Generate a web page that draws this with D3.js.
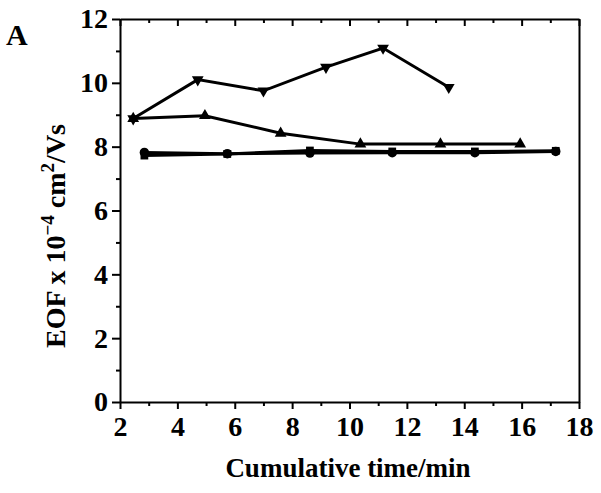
<!DOCTYPE html>
<html>
<head>
<meta charset="utf-8">
<script src="https://cdn.jsdelivr.net/npm/d3@7"></script>
<style>
  body { margin: 0; background: #fff; }
  svg text { font-family: "Liberation Serif", "Times New Roman", serif; font-weight: bold; fill: #000; }
</style>
</head>
<body>
<div id="chart"></div>
<script>
// data (cumulative time in min, EOF x 1e-4 cm2/Vs)
const downTri = [[2.46, 8.88], [4.71, 10.1], [7.0, 9.75], [9.18, 10.49], [11.17, 11.09], [13.46, 9.86]];
const upTri = [[2.46, 8.88], [4.96, 8.97], [7.6, 8.42], [10.38, 8.08], [13.17, 8.08], [15.95, 8.08]];
const circles = [[2.85, 7.82], [5.74, 7.78], [8.62, 7.8], [11.49, 7.81], [14.37, 7.81], [17.19, 7.85]];
const squares = [[2.85, 7.72], [5.74, 7.77], [8.62, 7.88], [11.49, 7.85], [14.37, 7.85], [17.19, 7.87]];
const xTicks = [2, 4, 6, 8, 10, 12, 14, 16, 18];
const yTicks = [0, 2, 4, 6, 8, 10, 12];

const margin = { top: 19, right: 22, bottom: 91, left: 120 };
const width = 601 - margin.left - margin.right;
const height = 493 - margin.top - margin.bottom;

const svg = d3.select('#chart')
    .append('svg')
    .attr('width', 601)
    .attr('height', 493);

const g = svg.append('g')
    .attr('transform', `translate(${margin.left}, ${margin.top})`);

const x = d3.scaleLinear().domain([2, 18]).range([0, width]);
const y = d3.scaleLinear().domain([0, 12]).range([height, 0]);

const minorX = d3.range(3, 18, 2);
const minorY = d3.range(1, 12, 2);

function styleAxis(sel) {
    sel.selectAll('path').attr('stroke', '#000').attr('stroke-width', 2);
    sel.selectAll('line').attr('stroke', '#000').attr('stroke-width', 2);
    sel.selectAll('text').style('font-size', '28px');
}

// bottom axis
g.append('g')
    .attr('transform', `translate(0, ${height})`)
    .call(d3.axisBottom(x).tickValues(xTicks).tickSize(7).tickPadding(7).tickSizeOuter(0))
    .call(styleAxis)
    .call(a => a.selectAll('text').attr('dy', '0.72em'));
g.append('g')
    .attr('transform', `translate(0, ${height})`)
    .call(d3.axisBottom(x).tickValues(minorX).tickSize(4).tickFormat(''))
    .call(styleAxis)
    .call(a => a.select('path').remove());

// top axis (ticks inward)
g.append('g')
    .call(d3.axisTop(x).tickValues(xTicks).tickSize(-7).tickFormat('').tickSizeOuter(0))
    .call(styleAxis);
g.append('g')
    .call(d3.axisTop(x).tickValues(minorX).tickSize(-4).tickFormat(''))
    .call(styleAxis)
    .call(a => a.select('path').remove());

// left axis
g.append('g')
    .call(d3.axisLeft(y).tickValues(yTicks).tickSize(8).tickPadding(4).tickSizeOuter(0))
    .call(styleAxis);
g.append('g')
    .call(d3.axisLeft(y).tickValues(minorY).tickSize(4).tickFormat(''))
    .call(styleAxis)
    .call(a => a.select('path').remove());

// right frame
g.append('g')
    .attr('transform', `translate(${width}, 0)`)
    .call(d3.axisRight(y).tickValues([]).tickSizeOuter(0))
    .call(styleAxis);

const line = d3.line().x(d => x(d[0])).y(d => y(d[1]));

const series = [
    { data: squares, sym: d3.symbolSquare, size: 60, rot: 0 },
    { data: circles, sym: d3.symbolCircle, size: 70, rot: 0 },
    { data: upTri, sym: d3.symbolTriangle, size: 60, rot: 0 },
    { data: downTri, sym: d3.symbolTriangle, size: 60, rot: 180 }
];

series.forEach(s => {
    g.append('path')
        .datum(s.data)
        .attr('fill', 'none')
        .attr('stroke', '#000')
        .attr('stroke-width', 3)
        .attr('d', line);
    g.selectAll(null)
        .data(s.data)
        .join('path')
        .attr('d', d3.symbol().type(s.sym).size(s.size))
        .attr('transform', d => `translate(${x(d[0])}, ${y(d[1])}) rotate(${s.rot})`)
        .attr('fill', '#000');
});

// axis titles
svg.append('text')
    .attr('x', 348)
    .attr('y', 477)
    .attr('text-anchor', 'middle')
    .style('font-size', '27px')
    .text('Cumulative time/min');

const yt = svg.append('text')
    .attr('transform', `translate(65, 236) rotate(-90)`)
    .attr('text-anchor', 'middle')
    .style('font-size', '28px');
yt.append('tspan').text('EOF x 10');
yt.append('tspan').attr('dy', -11).style('font-size', '19px').text('\u22124');
yt.append('tspan').attr('dy', 11).text(' cm');
yt.append('tspan').attr('dy', -11).style('font-size', '19px').text('2');
yt.append('tspan').attr('dy', 11).text('/Vs');

svg.append('text')
    .attr('x', 6)
    .attr('y', 45)
    .style('font-size', '30px')
    .text('A');
</script>
</body>
</html>
